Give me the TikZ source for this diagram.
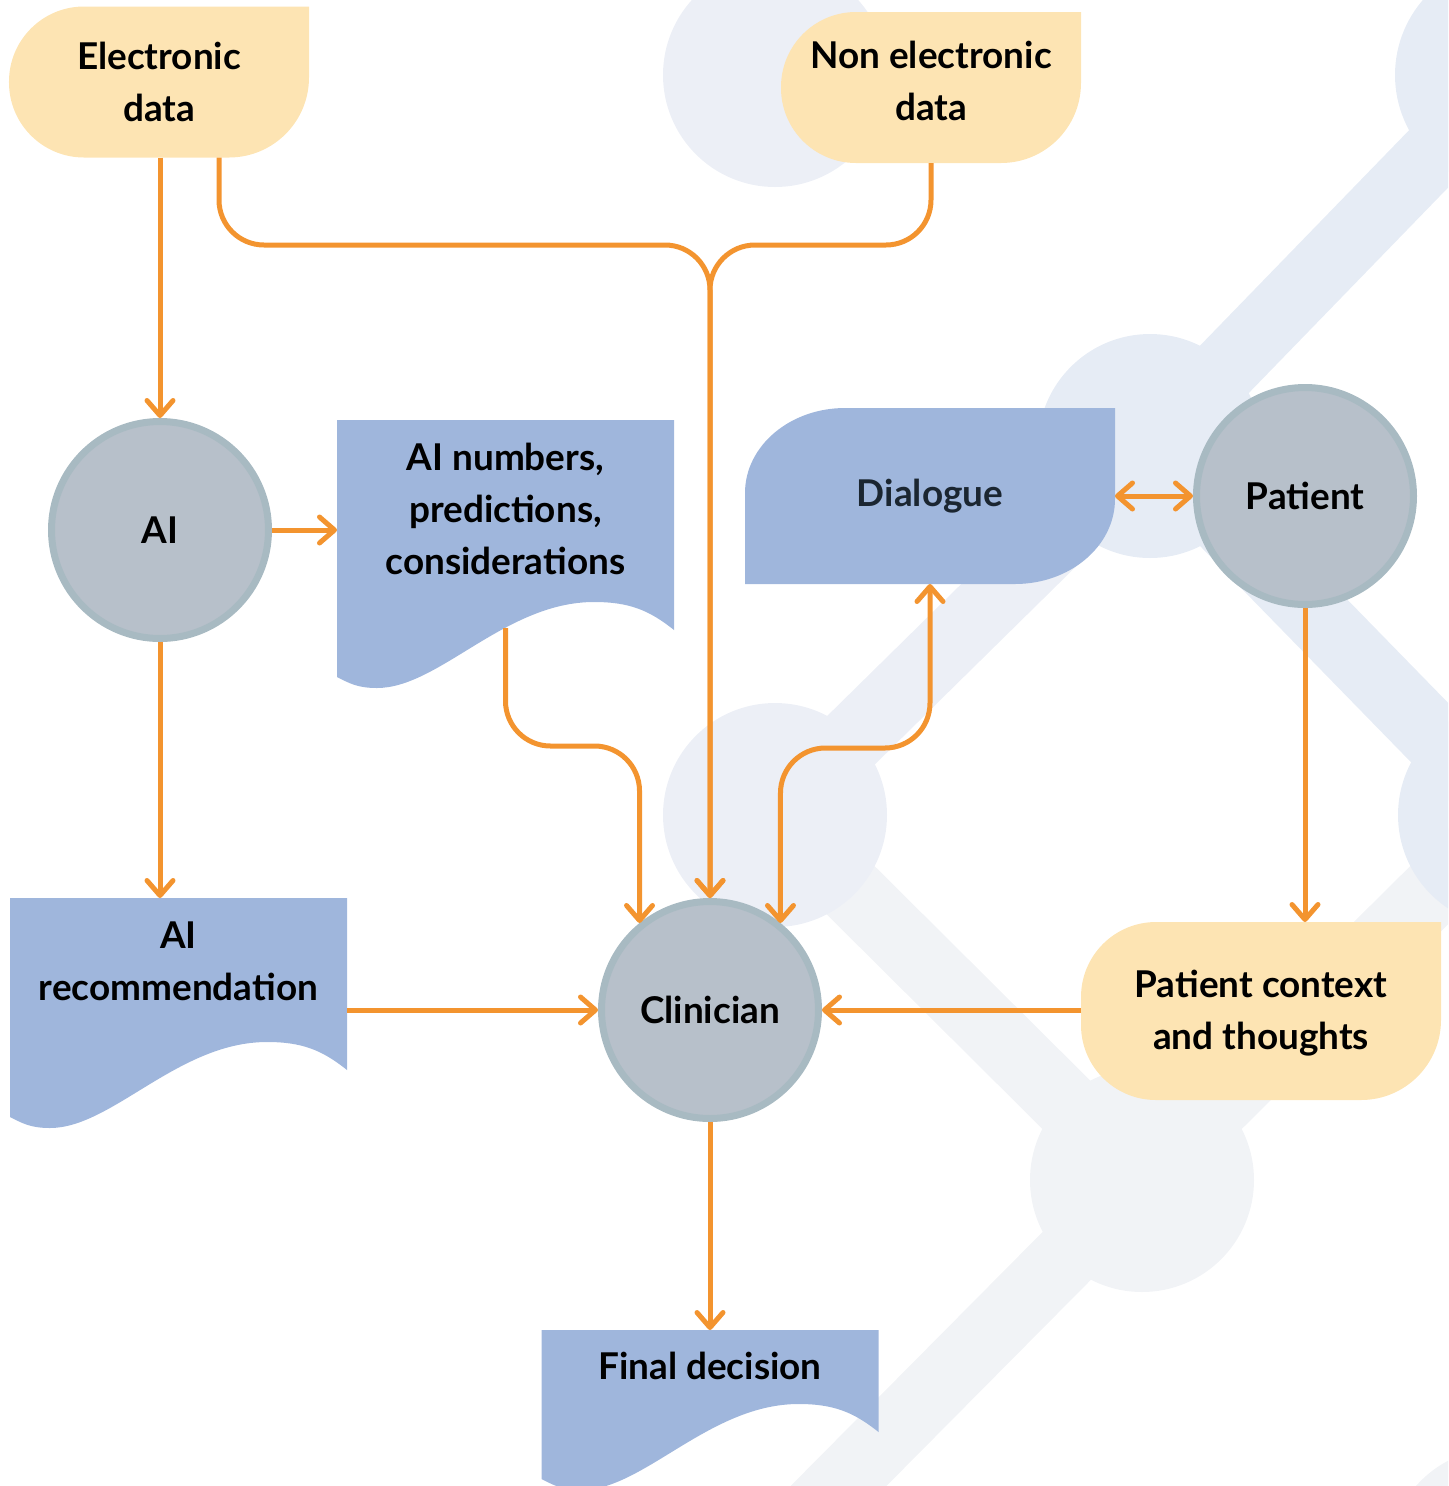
\documentclass[tikz,border=0pt]{standalone}
\usepackage{fontspec}
\setmainfont{Lato}
\usetikzlibrary{arrows.meta,positioning,backgrounds}

\definecolor{datacol}{HTML}{FDE4B3}
\definecolor{doccol}{HTML}{9FB6DC}
\definecolor{circfill}{HTML}{B7C0CA}
\definecolor{circline}{HTML}{A8BAC2}
\definecolor{arrowcol}{HTML}{F3942F}
\definecolor{dialtext}{HTML}{1B2631}
\definecolor{bgblue}{HTML}{E6ECF5}
\definecolor{bgmid}{HTML}{ECEFF6}
\definecolor{bggray}{HTML}{F1F3F6}

\newcommand{\labelfont}{\fontsize{10.5}{14.8}\selectfont\bfseries}

% shapes behind the text nodes
\newcommand{\datafill}[2]{%
  \fill[datacol] (#1.north east) -- ([xshift=7.5mm]#1.north west)
    arc[start angle=90,end angle=180,radius=7.5mm] -- ([yshift=7.5mm-#2 cm]#1.south west)
    arc[start angle=180,end angle=270,radius=7.5mm] -- ([xshift=-8mm,yshift=-#2 cm]#1.south east)
    arc[start angle=270,end angle=360,radius=8mm] -- cycle;}
\newcommand{\dialfill}[1]{%
  \fill[doccol] ([xshift=10mm]#1.north west) -- (#1.north east) -- ([yshift=8.5mm]#1.south east)
    arc[start angle=0,end angle=-90,x radius=10mm,y radius=8.5mm] -- (#1.south west)
    -- ([yshift=-8.5mm]#1.north west)
    arc[start angle=180,end angle=90,x radius=10mm,y radius=8.5mm] -- cycle;}
\newcommand{\docfill}[2]{%
  \fill[doccol] (#1.north west) -- (#1.north east) -- ([yshift=-#2 cm]#1.south east)
    .. controls +(-0.25,0.2) and +(0.35,0) .. ([shift={(-0.8,0.28-#2)}]#1.south east)
    .. controls +(-0.89,0) and +(0.62,0) .. ([shift={(0.40,-0.58-#2)}]#1.south west)
    .. controls +(-0.2,0) and +(0.12,-0.06) .. ([shift={(0,-0.47-#2)}]#1.south west)
    -- cycle;}

\tikzset{
  flow/.style={draw=arrowcol, line width=0.5mm, rounded corners=4.5mm,
    >={Straight Barb[round,length=1.5mm,width=2.6mm]}},
  datanode/.style={minimum width=3cm, minimum height=1.51cm, inner sep=0pt,
    outer sep=0pt, align=center, font=\labelfont},
  docnode/.style={minimum width=3.37cm, inner sep=0pt, outer sep=0pt,
    align=center, font=\labelfont},
  dialnode/.style={minimum width=3.7cm, minimum height=1.76cm, inner sep=0pt,
    outer sep=0pt, text=dialtext, font=\labelfont},
  circ/.style={circle, fill=circfill, draw=circline, line width=0.7mm,
    minimum size=2.17cm, inner sep=0pt, font=\labelfont},
}

\begin{document}
\begin{tikzpicture}[node distance=1cm]
 \useasboundingbox (0,0) rectangle (14.48,-14.86);

 \node[datanode] (edata) at (1.59,-0.82) {Electronic\\data};
 \node[datanode, minimum height=1.38cm] (nedata) at (9.31,-0.81) {Non electronic\\data};
 \node[circ] (ai) at (1.60,-5.30) {AI};
 \node[docnode, minimum height=1.78cm] (numbers) at (5.055,-5.09)
     {AI numbers,\\predictions,\\considerations};
 \node[docnode, minimum height=1.26cm] (airec) at (1.785,-9.61) {AI\\recommendation};
 \node[circ] (clin) at (7.10,-10.10) {Clinician};
 \node[dialnode] (dial) at (9.30,-4.96) {Dialogue};
 \node[circ, right=0.78cm of dial] (patient) {Patient};
 \node[datanode, minimum width=3.6cm, minimum height=1.82cm] (ctx) at (12.61,-10.13)
     {Patient context\\and thoughts};
 \node[docnode, minimum height=0.72cm] (final) at (7.10,-13.66) {Final decision};
 \coordinate (fork) at (7.10,-2.45);

 % pale backdrop
 \begin{scope}[on background layer]
  \clip (0,0) rectangle (14.48,-14.86);
  \draw[bgblue, line width=6.8mm] (11.50,-4.46) -- (15.10,-0.75)
      (11.50,-4.46) -- (15.10,-8.15);
  \draw[bgmid, line width=6.8mm] (11.50,-4.46) -- (7.75,-8.15);
  \draw[bggray, line width=6.8mm] (7.75,-8.15) -- (11.42,-11.80) -- (7.75,-15.50)
      (15.10,-8.15) -- (11.42,-11.80);
  \fill[bgmid] (7.75,-0.75) circle (1.12);
  \fill[bgblue] (11.50,-4.46) circle (1.12) (15.10,-0.75) circle (1.15)
      (15.10,-8.15) circle (1.12);
  \fill[bgmid] (7.75,-8.15) circle (1.12);
  \fill[bggray] (11.42,-11.80) circle (1.12) (15.00,-15.60) circle (1.12);
 \end{scope}

 \begin{scope}[on background layer]
  \datafill{edata}{0}
  \datafill{nedata}{0.13}
  \datafill{ctx}{-0.04}
  \dialfill{dial}
  \docfill{numbers}{0.32}
  \docfill{airec}{0.46}
  \docfill{final}{0.30}
 \end{scope}

 \draw[flow, ->] (ai.north |- edata.south) -- (ai.north);
 \draw[flow, ->] ([xshift=6mm]edata.south) |- (fork) -- (clin.north);
 \draw[flow, ->] ([yshift=-1.3mm]nedata.south) |- (fork) -- (clin.north);
 \draw[flow, ->] (ai.east) -- (ai.east -| numbers.west);
 \draw[flow, ->] (ai.south) -- (ai.south |- airec.north);
 \draw[flow, ->] ([yshift=-3mm]numbers.south) -- ++(0,-1.18) -| (clin.129);
 \draw[flow, <->] (dial.south) -- ++(0,-1.64) -| (clin.51);
 \draw[flow, <->] (dial.east) -- (patient.west);
 \draw[flow, ->] (patient.south) -- (patient.south |- ctx.north);
 \draw[flow, ->] (ctx.west |- clin.east) -- (clin.east);
 \draw[flow, ->] (airec.east |- clin.west) -- (clin.west);
 \draw[flow, ->] (clin.south) -- (final.north);
\end{tikzpicture}
\end{document}
